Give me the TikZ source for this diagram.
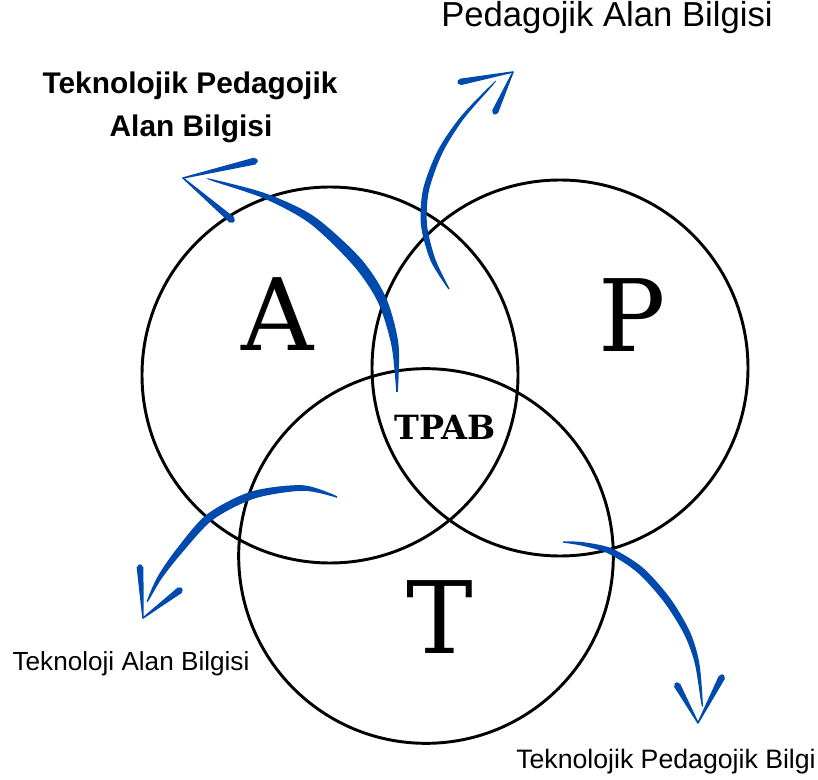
\documentclass[tikz,border=0pt]{standalone}
\usepackage{fontspec}
\setmainfont{Liberation Sans}
\newfontfamily\letterfont{DejaVu Serif}
\usetikzlibrary{calc}
\definecolor{brushblue}{RGB}{0,74,173}
\newcommand\bside[5]{\coordinate (#1l) at ($(#1)!#3!#4:(#2)$);\coordinate (#1r) at ($(#1)!#3!#5:(#2)$);}
\newcommand\barbhead[3]{%
  \fill[brushblue] ($(#2)!#3!90:(#1)$) -- (#1) -- ($(#2)!#3!-90:(#1)$) -- cycle;
  \draw[brushblue,line width=1.1pt,line join=round] ($(#2)!#3!90:(#1)$) -- (#1) -- ($(#2)!#3!-90:(#1)$);
  \fill[brushblue] (#2) circle (#3);}
\begin{document}
\begin{tikzpicture}[x=0.75pt,y=-0.75pt,
  ring/.style={circle,draw=black,line width=2.2pt,inner sep=0pt},
  bigletter/.style={inner sep=0pt,font=\letterfont\fontsize{75pt}{75pt}\selectfont},
  label/.style={anchor=base,inner sep=0pt}]
\useasboundingbox (0,0) rectangle (818,780);
\fill[white] (0,0) rectangle (818,780);
% circles
\node[ring,minimum size=282pt] (cA) at (330,375) {};
\node[ring,minimum size=282pt] (cP) at (560,368) {};
\node[ring,minimum size=281pt] (cT) at (426,556) {};
% letters
\node[bigletter] (lA) at (278,314) {A};
\node[bigletter] (lP) at (632,315) {P};
\node[bigletter] (lT) at (440,617) {T};
\node[inner sep=0pt,font=\letterfont\bfseries\fontsize{25pt}{27pt}\selectfont] (tpab) at (445,427) {TPAB};
% texts
\node[label,font=\fontsize{26pt}{30pt}\selectfont] (pab) at (607,27) {Pedagojik Alan Bilgisi};
\node[label,font=\bfseries\fontsize{22.4pt}{26pt}\selectfont] (tpab1) at (190,94) {Teknolojik Pedagojik};
\node[label,font=\bfseries\fontsize{22.4pt}{26pt}\selectfont] (tpab2) at (191,137) {Alan Bilgisi};
\node[label,font=\fontsize{19.6pt}{23pt}\selectfont] (tab) at (131,670) {Teknoloji Alan Bilgisi};
\node[label,font=\fontsize{20pt}{23pt}\selectfont] (tpb) at (666,768) {Teknolojik Pedagojik Bilgi};
% arrow 1 (TPAB -> upper left)
\coordinate (a1) at (397,392); \coordinate (a2) at (395,345); \coordinate (a3) at (382,300);
\coordinate (a4) at (357,262); \coordinate (a5) at (312,220); \coordinate (a6) at (265,196);
\coordinate (a7) at (212,180);
\bside{a1}{a2}{0.6pt}{90}{-90}\bside{a2}{a3}{2.7pt}{90}{-90}\bside{a3}{a4}{3.5pt}{90}{-90}
\bside{a4}{a5}{3.8pt}{90}{-90}\bside{a5}{a6}{3.1pt}{90}{-90}\bside{a6}{a7}{2.0pt}{90}{-90}
\bside{a7}{a6}{0.6pt}{-90}{90}
\fill[brushblue] plot[smooth,tension=0.5] coordinates {(a1l)(a2l)(a3l)(a4l)(a5l)(a6l)(a7l)(a7r)(a6r)(a5r)(a4r)(a3r)(a2r)(a1r)} -- cycle;
\coordinate (a8) at (183,178);
\coordinate (ab1) at (255,161); \coordinate (ab2) at (232,220);
\barbhead{a8}{ab1}{2.1pt}\barbhead{a8}{ab2}{2.1pt}
% arrow 2 (-> Pedagojik Alan Bilgisi)
\coordinate (d1) at (449,289); \coordinate (d2) at (433,260); \coordinate (d3) at (424,225);
\coordinate (d4) at (426,190); \coordinate (d5) at (440,152); \coordinate (d6) at (462,118);
\coordinate (d7) at (493,84);
\bside{d1}{d2}{0.5pt}{90}{-90}\bside{d2}{d3}{1.9pt}{90}{-90}\bside{d3}{d4}{2.3pt}{90}{-90}
\bside{d4}{d5}{2.3pt}{90}{-90}\bside{d5}{d6}{2.0pt}{90}{-90}\bside{d6}{d7}{1.4pt}{90}{-90}
\bside{d7}{d6}{0.5pt}{-90}{90}
\fill[brushblue] plot[smooth,tension=0.5] coordinates {(d1l)(d2l)(d3l)(d4l)(d5l)(d6l)(d7l)(d7r)(d6r)(d5r)(d4r)(d3r)(d2r)(d1r)} -- cycle;
\coordinate (d8) at (513,72);
\coordinate (db1) at (460,82); \coordinate (db2) at (495,112);
\barbhead{d8}{db1}{1.9pt}\barbhead{d8}{db2}{1.9pt}
% arrow 3 (-> Teknoloji Alan Bilgisi)
\coordinate (e1) at (337,497); \coordinate (e2) at (303,488); \coordinate (e3) at (253,495);
\coordinate (e4) at (210,517); \coordinate (e5) at (180,550); \coordinate (e6) at (160,577);
\coordinate (e7) at (148,600);
\bside{e1}{e2}{0.6pt}{90}{-90}\bside{e2}{e3}{2.1pt}{90}{-90}\bside{e3}{e4}{2.9pt}{90}{-90}
\bside{e4}{e5}{3.0pt}{90}{-90}\bside{e5}{e6}{2.5pt}{90}{-90}\bside{e6}{e7}{1.7pt}{90}{-90}
\bside{e7}{e6}{0.6pt}{-90}{90}
\fill[brushblue] plot[smooth,tension=0.5] coordinates {(e1l)(e2l)(e3l)(e4l)(e5l)(e6l)(e7l)(e7r)(e6r)(e5r)(e4r)(e3r)(e2r)(e1r)} -- cycle;
\coordinate (e8) at (143,618);
\coordinate (eb1) at (140,567); \coordinate (eb2) at (180,590);
\barbhead{e8}{eb1}{2.0pt}\barbhead{e8}{eb2}{2.0pt}
% arrow 4 (-> Teknolojik Pedagojik Bilgi)
\coordinate (f1) at (563,542); \coordinate (f2) at (583,544); \coordinate (f3) at (610,551);
\coordinate (f4) at (640,570); \coordinate (f5) at (667,600); \coordinate (f6) at (687,633);
\coordinate (f7) at (697,663); \coordinate (f8) at (702,703);
\bside{f1}{f2}{0.5pt}{90}{-90}\bside{f2}{f3}{1.4pt}{90}{-90}\bside{f3}{f4}{2.3pt}{90}{-90}
\bside{f4}{f5}{2.7pt}{90}{-90}\bside{f5}{f6}{2.7pt}{90}{-90}\bside{f6}{f7}{2.4pt}{90}{-90}
\bside{f7}{f8}{1.7pt}{90}{-90}\bside{f8}{f7}{0.6pt}{-90}{90}
\fill[brushblue] plot[smooth,tension=0.5] coordinates {(f1l)(f2l)(f3l)(f4l)(f5l)(f6l)(f7l)(f8l)(f8r)(f7r)(f6r)(f5r)(f4r)(f3r)(f2r)(f1r)} -- cycle;
\coordinate (f9) at (698,723);
\coordinate (fb1) at (677,685); \coordinate (fb2) at (722,677);
\barbhead{f9}{fb1}{2.0pt}\barbhead{f9}{fb2}{2.0pt}
\end{tikzpicture}
\end{document}
